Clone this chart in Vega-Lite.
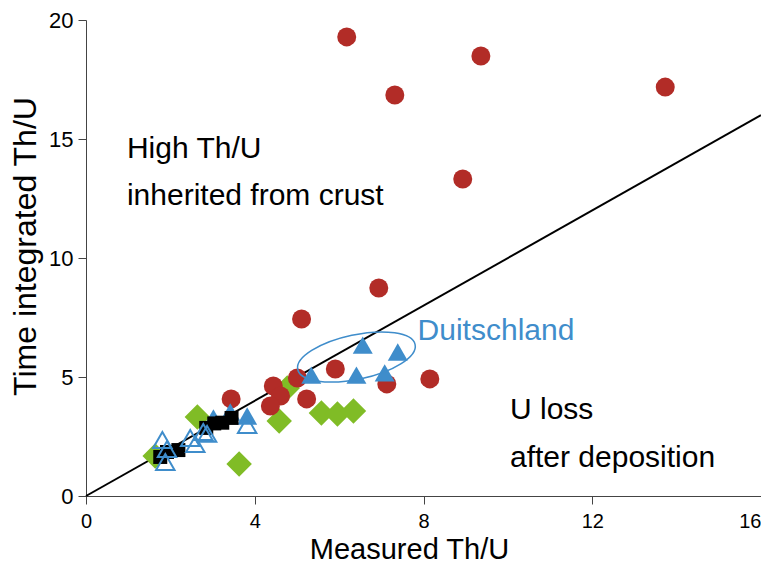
{
  "$schema": "https://vega.github.io/schema/vega-lite/v6.json",
  "width": 675,
  "height": 476,
  "autosize": "none",
  "padding": {"left": 86, "top": 20, "right": 0, "bottom": 68},
  "background": "white",
  "config": {"view": {"stroke": null}, "font": "Liberation Sans"},
  "datasets": {
    "points": [
      {"type": "diamond", "x": 1.64, "y": 1.68},
      {"type": "diamond", "x": 2.64, "y": 3.32},
      {"type": "diamond", "x": 3.63, "y": 1.34},
      {"type": "diamond", "x": 4.58, "y": 3.15},
      {"type": "diamond", "x": 4.77, "y": 4.54},
      {"type": "diamond", "x": 5.58, "y": 3.49},
      {"type": "diamond", "x": 5.96, "y": 3.45},
      {"type": "diamond", "x": 6.34, "y": 3.57},
      {"type": "circle", "x": 6.18, "y": 19.29},
      {"type": "circle", "x": 9.36, "y": 18.49},
      {"type": "circle", "x": 7.32, "y": 16.85},
      {"type": "circle", "x": 13.73, "y": 17.18},
      {"type": "circle", "x": 8.93, "y": 13.32},
      {"type": "circle", "x": 6.94, "y": 8.74},
      {"type": "circle", "x": 5.11, "y": 7.44},
      {"type": "circle", "x": 5.91, "y": 5.34},
      {"type": "circle", "x": 5.01, "y": 4.96},
      {"type": "circle", "x": 5.23, "y": 4.08},
      {"type": "circle", "x": 8.15, "y": 4.92},
      {"type": "circle", "x": 7.13, "y": 4.71},
      {"type": "circle", "x": 4.44, "y": 4.62},
      {"type": "circle", "x": 4.61, "y": 4.2},
      {"type": "circle", "x": 4.37, "y": 3.78},
      {"type": "circle", "x": 3.44, "y": 4.08},
      {"type": "tri_filled", "x": 6.56, "y": 6.34},
      {"type": "tri_filled", "x": 7.39, "y": 6.05},
      {"type": "tri_filled", "x": 5.34, "y": 5.08},
      {"type": "tri_filled", "x": 6.41, "y": 5.08},
      {"type": "tri_filled", "x": 7.08, "y": 5.17},
      {"type": "tri_filled", "x": 3.02, "y": 3.28},
      {"type": "tri_filled", "x": 3.42, "y": 3.53},
      {"type": "tri_filled", "x": 3.82, "y": 3.36},
      {"type": "square", "x": 1.76, "y": 1.64},
      {"type": "square", "x": 1.92, "y": 1.85},
      {"type": "square", "x": 2.19, "y": 1.93},
      {"type": "square", "x": 2.85, "y": 2.86},
      {"type": "square", "x": 3.04, "y": 3.05},
      {"type": "square", "x": 3.23, "y": 3.08},
      {"type": "square", "x": 3.45, "y": 3.28},
      {"type": "tri_open", "x": 1.81, "y": 2.35},
      {"type": "tri_open", "x": 1.88, "y": 1.43},
      {"type": "tri_open", "x": 1.92, "y": 1.97},
      {"type": "tri_open", "x": 2.47, "y": 2.44},
      {"type": "tri_open", "x": 2.59, "y": 2.18},
      {"type": "tri_open", "x": 2.78, "y": 2.69},
      {"type": "tri_open", "x": 2.87, "y": 2.61},
      {"type": "tri_open", "x": 3.82, "y": 2.98}
    ],
    "line": [{"x": 0, "y": 0}, {"x": 16, "y": 16}],
    "ellipse": [{"x": 6.41, "y": 5.84}],
    "notes": [
      {"kind": "black", "x": 0.97, "y": 14.6, "label": "High Th/U"},
      {"kind": "black", "x": 0.97, "y": 12.6, "label": "inherited from crust"},
      {"kind": "black", "x": 10.05, "y": 3.61, "label": "U loss"},
      {"kind": "black", "x": 10.05, "y": 1.6, "label": "after deposition"},
      {"kind": "blue", "x": 7.86, "y": 6.93, "label": "Duitschland"}
    ]
  },
  "encoding": {
    "x": {
      "field": "x", "type": "quantitative",
      "scale": {"domain": [0, 16], "nice": false, "zero": false},
      "axis": {
        "title": "Measured Th/U", "titleFontSize": 29, "titleFontWeight": "normal",
        "titleColor": "black", "titleX": 323, "titleY": 62, "titleAlign": "center",
        "titleBaseline": "alphabetic",
        "values": [0, 4, 8, 12, 16], "grid": false,
        "labelFontSize": 20, "labelColor": "black",
        "labelPadding": 7, "tickSize": 8, "tickColor": "#444", "domainColor": "#444",
        "labelAlign": {"expr": "datum.value == 16 ? 'right' : 'center'"}
      }
    },
    "y": {
      "field": "y", "type": "quantitative",
      "scale": {"domain": [0, 20], "nice": false, "zero": false},
      "axis": {
        "title": "Time integrated Th/U", "titleFontSize": 32, "titleFontWeight": "normal",
        "titleColor": "black", "titleX": -61, "titleY": 226, "titleAngle": -90,
        "titleAlign": "center", "titleBaseline": "middle",
        "values": [0, 5, 10, 15, 20], "grid": false,
        "labelFontSize": 22, "labelColor": "black",
        "labelPadding": 5, "tickSize": 8, "tickColor": "#444", "domainColor": "#444"
      }
    }
  },
  "layer": [
    {
      "data": {"name": "line"},
      "mark": {"type": "line", "color": "black", "strokeWidth": 2}
    },
    {
      "data": {"name": "points"},
      "transform": [{"filter": "datum.type == 'diamond'"}],
      "mark": {"type": "point", "shape": "diamond", "filled": true, "color": "#80BC26", "opacity": 1, "size": 650}
    },
    {
      "data": {"name": "points"},
      "transform": [{"filter": "datum.type == 'circle'"}],
      "mark": {"type": "point", "shape": "circle", "filled": true, "color": "#B22C27", "opacity": 1, "size": 361}
    },
    {
      "data": {"name": "points"},
      "transform": [{"filter": "datum.type == 'tri_filled'"}],
      "mark": {"type": "point", "shape": "triangle-up", "filled": true, "color": "#3F8DCB", "opacity": 1, "size": 400}
    },
    {
      "data": {"name": "points"},
      "transform": [{"filter": "datum.type == 'square'"}],
      "mark": {"type": "point", "shape": "square", "filled": true, "color": "black", "opacity": 1, "size": 196}
    },
    {
      "data": {"name": "points"},
      "transform": [{"filter": "datum.type == 'tri_open'"}],
      "mark": {"type": "point", "shape": "triangle-up", "filled": false, "color": "#3F8DCB", "strokeWidth": 2, "opacity": 1, "size": 340}
    },
    {
      "data": {"name": "ellipse"},
      "mark": {"type": "point", "shape": "M-1,0A1,0.37,0,1,1,1,0A1,0.37,0,1,1,-1,0Z", "filled": false, "color": "#3F8DCB", "strokeWidth": 1.5, "opacity": 1, "size": 14400, "angle": -12}
    },
    {
      "data": {"name": "notes"},
      "transform": [{"filter": "datum.kind == 'black'"}],
      "mark": {"type": "text", "align": "left", "baseline": "middle", "fontSize": 30, "color": "black"},
      "encoding": {"text": {"field": "label"}}
    },
    {
      "data": {"name": "notes"},
      "transform": [{"filter": "datum.kind == 'blue'"}],
      "mark": {"type": "text", "align": "left", "baseline": "middle", "fontSize": 30, "color": "#3F8DCB"},
      "encoding": {"text": {"field": "label"}}
    }
  ]
}
